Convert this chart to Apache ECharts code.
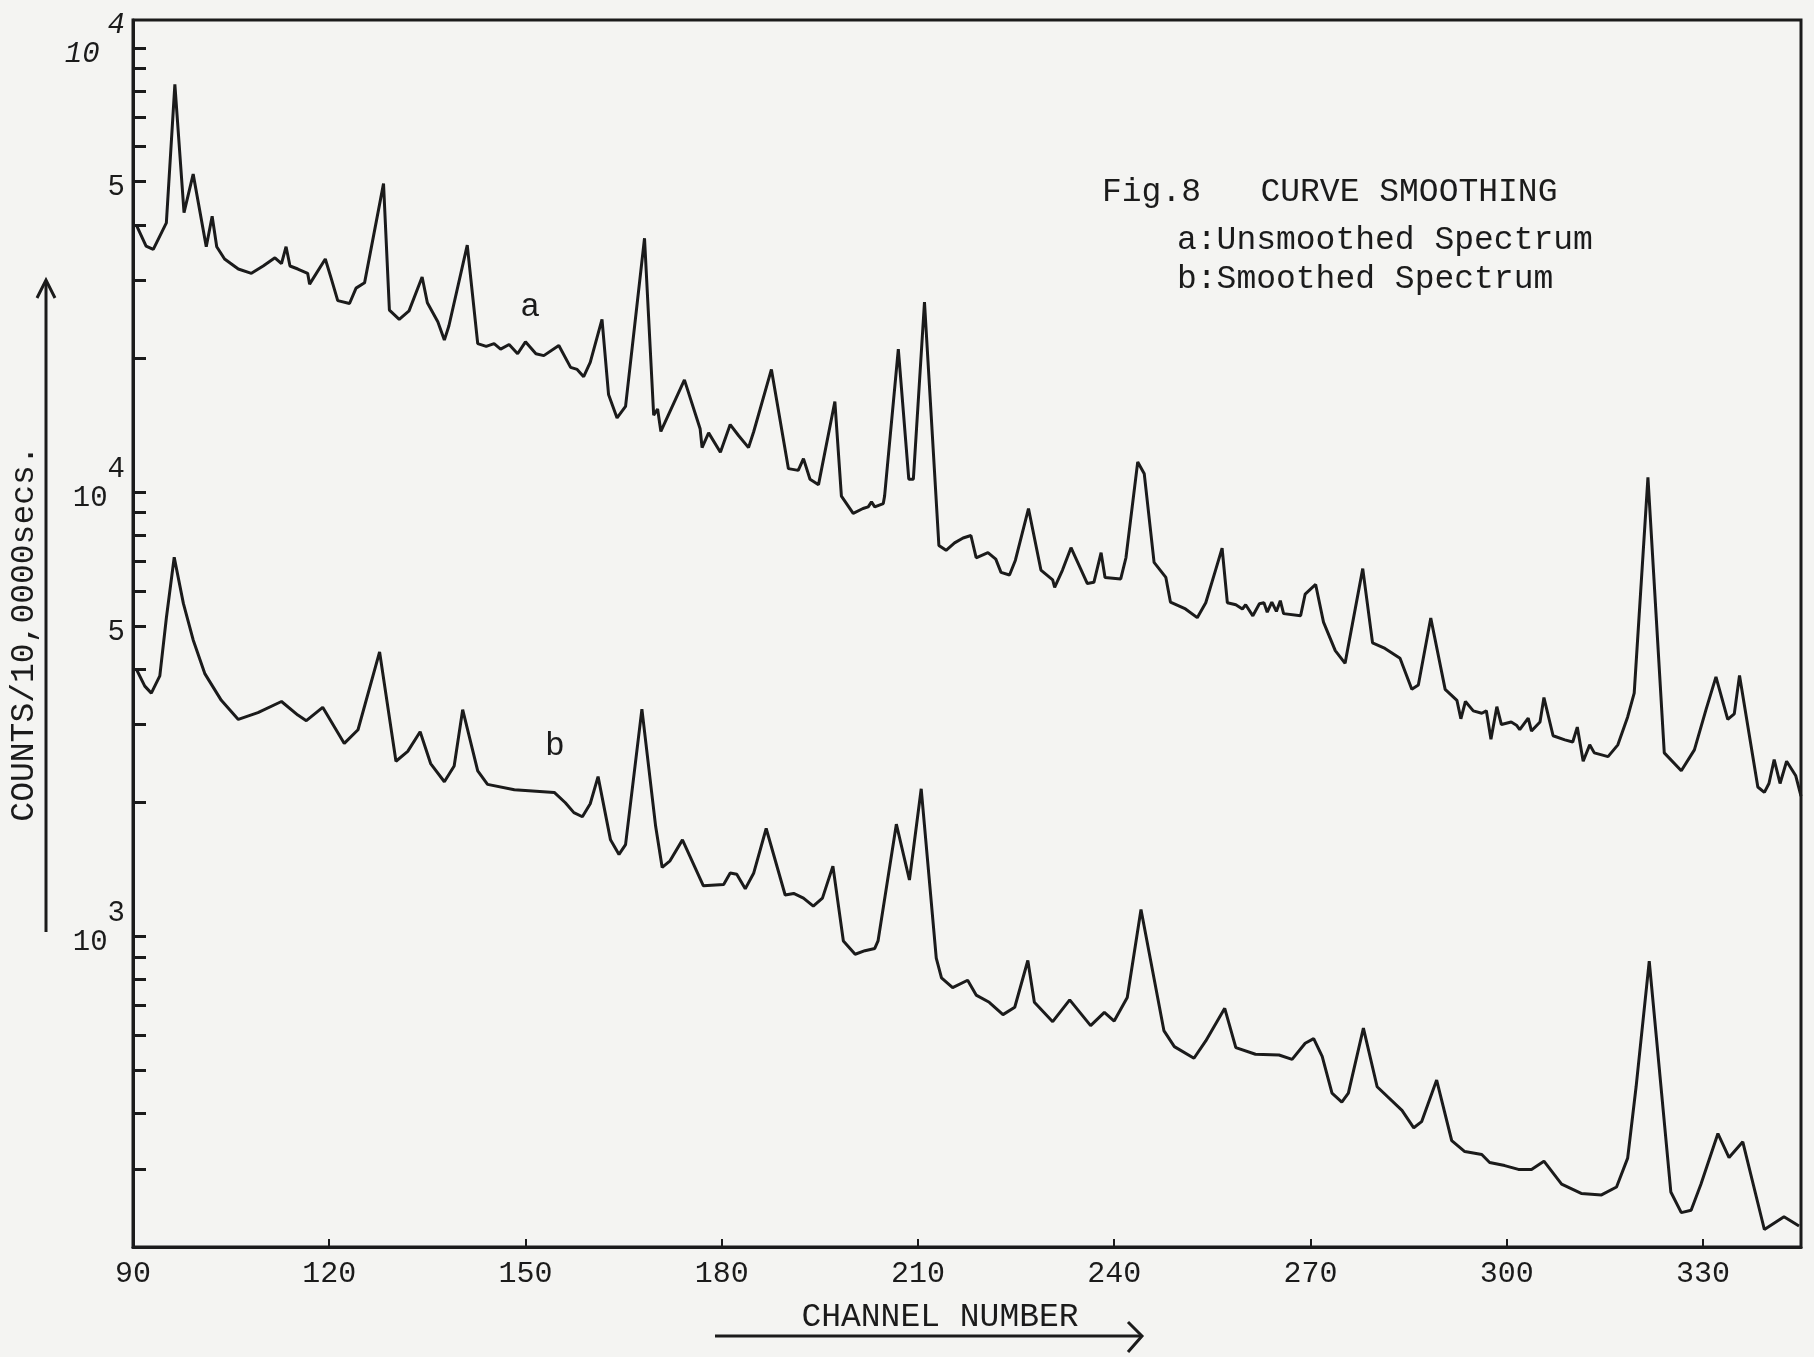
<!DOCTYPE html>
<html>
<head>
<meta charset="utf-8">
<script src="https://cdn.jsdelivr.net/npm/echarts@6/dist/echarts.min.js"></script>
<style>
html, body { margin: 0; padding: 0; background: #f4f4f2; }
#chart { width: 1814px; height: 1357px; }
</style>
</head>
<body>
<div id="chart"></div>
<script>
// channel axis
var channelTicks = [90, 120, 150, 180, 210, 240, 270, 300, 330];
// log count axis: minor ticks and the labelled ones
var countTicks = [200, 300, 400, 500, 600, 700, 800, 900,
    1000, 2000, 3000, 4000, 5000, 6000, 7000, 8000, 9000,
    10000, 20000, 30000, 40000, 50000, 60000, 70000, 80000, 90000, 100000];
var countLabelValues = [1000, 5000, 10000, 50000, 100000];
// top one is written "10^4" on the original sheet, kept as drawn
var countLabelTexts = ['{b|10}{s|3}', '{b|5}', '{b|10}{s|4}', '{b|5}', '{h|10}{hs|4}'];

// a: unsmoothed spectrum  [channel, counts]
var unsmoothed = [
    [90.5, 40000], [92, 35800], [93.1, 35200], [94.4, 38500], [95.1, 40400], [96.4, 82800],
    [97.8, 42600], [99.2, 52000], [101.2, 35700], [102.1, 41800], [102.8, 35700], [104, 33500],
    [106.1, 31800], [108.1, 31100], [109.9, 32300], [111.7, 33700], [112.7, 32700], [113.4, 35700],
    [114, 32300], [115.2, 31800], [116.7, 31100], [117, 29400], [119.4, 33500], [120.3, 30300],
    [121.3, 27000], [123.1, 26600], [124.1, 28800], [125.4, 29600], [128.3, 49500], [129.2, 25700],
    [130.7, 24500], [132.2, 25600], [134.2, 30500], [135, 26700], [136.6, 24200], [137.6, 22000],
    [138.3, 23700], [141.1, 36000], [142.7, 21600], [144, 21300], [145.2, 21600], [146.2, 21000],
    [147.5, 21500], [148.8, 20500], [150, 21800], [151.6, 20500], [152.8, 20300], [155.1, 21400],
    [156.9, 19100], [157.9, 18900], [158.9, 18200], [159.9, 19600], [161.7, 24500], [162.7, 16600],
    [164, 14700], [165.3, 15600], [168.2, 37300], [169.6, 14900], [170.2, 15400], [170.7, 13700],
    [174.3, 17900], [176.7, 13900], [177, 12600], [178, 13600], [179.8, 12300], [181.3, 14200],
    [182.6, 13400], [184.1, 12600], [184.9, 13700], [187.6, 18900], [190.2, 11300], [191.7, 11200],
    [192.5, 11900], [193.5, 10700], [194.8, 10400], [197.3, 16000], [198.3, 9800], [200.1, 8960],
    [201.6, 9190], [202.4, 9270], [202.9, 9510], [203.4, 9270], [204.7, 9430], [204.9, 9800],
    [207, 21000], [208.6, 10700], [209.3, 10700], [211, 26800], [213.2, 7590], [214.3, 7400],
    [215.6, 7690], [216.9, 7890], [218.1, 7990], [218.9, 7120], [220.7, 7310], [221.9, 7070],
    [222.7, 6600], [224, 6510], [224.9, 7030], [226.9, 9190], [228.8, 6680], [230.6, 6350],
    [230.9, 6110], [232.1, 6680], [233.4, 7500], [235.9, 6230], [236.9, 6270], [238, 7310],
    [238.6, 6430], [241, 6380], [241.8, 7120], [243.6, 11700], [244.6, 11000], [246.1, 6950],
    [247.9, 6430], [248.6, 5660], [250.9, 5460], [252.7, 5220], [254, 5640], [255.5, 6680],
    [256.5, 7480], [257.3, 5640], [258.6, 5580], [259.6, 5460], [260.1, 5580], [261.2, 5270],
    [262.2, 5610], [262.9, 5640], [263.4, 5370], [264.1, 5660], [264.8, 5390], [265.4, 5700],
    [265.9, 5330], [268.5, 5270], [269.2, 5900], [270.8, 6200], [272, 5100], [273.8, 4400],
    [275.3, 4120], [278, 6730], [279.5, 4580], [281.4, 4450], [283.7, 4230], [285.5, 3600],
    [286.5, 3680], [288.4, 5210], [290.6, 3600], [292.4, 3400], [293, 3090], [293.7, 3380],
    [294.9, 3220], [296.2, 3180], [296.9, 3220], [297.6, 2780], [298.5, 3290], [299.2, 3000],
    [300.7, 3040], [301.5, 2990], [302, 2920], [303.3, 3100], [303.8, 2900], [305.1, 3040],
    [305.7, 3450], [307.1, 2830], [308.9, 2770], [310.1, 2740], [310.8, 2960], [311.7, 2480],
    [312.7, 2700], [313.4, 2590], [315.5, 2540], [317, 2700], [318.5, 3120], [319.5, 3530],
    [321.6, 10800], [324.1, 2590], [326.7, 2360], [328.7, 2630], [330.5, 3250], [332, 3840],
    [333.8, 3080], [334.8, 3170], [335.6, 3870], [338.4, 2170], [339.4, 2110], [340.1, 2210],
    [340.9, 2500], [341.8, 2210], [342.8, 2480], [344.2, 2300], [345, 2070]
];

// b: smoothed spectrum  [channel, counts]
var smoothed = [
    [90.5, 4000], [91.8, 3660], [92.8, 3530], [94.1, 3860], [95.1, 5210], [96.3, 7140],
    [97.7, 5620], [99.2, 4650], [101, 3900], [103.5, 3400], [106.1, 3080], [109.1, 3190],
    [112.7, 3380], [115.2, 3150], [116.5, 3060], [119, 3280], [122.3, 2720], [124.4, 2920],
    [127.7, 4370], [130.2, 2480], [132, 2610], [133.9, 2890], [135.5, 2450], [137.6, 2230],
    [139.1, 2420], [140.4, 3240], [142.7, 2360], [144.2, 2200], [148.3, 2140], [154.4, 2110],
    [156.1, 2000], [157.4, 1900], [158.7, 1860], [159.9, 1990], [161.1, 2290], [163, 1650],
    [164.3, 1530], [165.3, 1610], [167.8, 3250], [169.9, 1770], [170.9, 1430], [172.1, 1480],
    [174, 1650], [177.2, 1300], [180.3, 1310], [181.3, 1390], [182.3, 1380], [183.6, 1280],
    [184.9, 1390], [186.8, 1750], [189.7, 1240], [191, 1250], [192.5, 1220], [194, 1170],
    [195.4, 1220], [197, 1440], [198.6, 977], [200.4, 912], [201.9, 929], [203.4, 940],
    [203.9, 977], [206.7, 1790], [208.7, 1340], [210.5, 2150], [212.8, 894], [213.6, 807],
    [215.3, 767], [217.6, 797], [218.9, 738], [220.9, 711], [223, 667], [224.8, 693],
    [226.8, 883], [227.8, 711], [230.6, 643], [233.2, 720], [236.4, 630], [238.5, 675],
    [240, 645], [242, 729], [244.1, 1150], [247.6, 614], [249.2, 565], [252.2, 532],
    [254, 582], [256.9, 689], [258.6, 562], [261.6, 543], [265.2, 541], [267.2, 529],
    [269.2, 575], [270.5, 589], [271.8, 537], [273.3, 444], [274.8, 424], [275.8, 444],
    [278.1, 622], [280.2, 459], [284, 406], [285.8, 371], [287, 383], [289.3, 475],
    [291.6, 347], [293.6, 328], [296.2, 323], [297.4, 310], [299.7, 305], [301.8, 299],
    [303.8, 299], [305.7, 312], [308.4, 277], [311.4, 264], [314.5, 262], [316.8, 273],
    [318.5, 317], [319.8, 460], [321.8, 880], [325.1, 266], [326.7, 239], [328.2, 242],
    [329.7, 277], [332.3, 360], [334, 318], [336.1, 345], [339.4, 219], [342.4, 234],
    [344.7, 223]
];

// where the hand-written curve letters sit
var curveTags = [['a', 150.7, 26100], ['b', 154.5, 2680]];

var ink = '#1b1b1b';
var mono = '"Liberation Mono", "DejaVu Sans Mono", monospace';

var chart = echarts.init(document.getElementById('chart'));

function tagPoint(i) {
    return {
        symbol: 'circle',
        symbolSize: 0,
        itemStyle: {color: 'rgba(0,0,0,0)'},
        label: {show: true, position: 'inside', color: ink, fontFamily: mono, fontSize: 33,
            formatter: curveTags[i][0]},
        data: [{coord: [curveTags[i][1], curveTags[i][2]]}]
    };
}

var option = {
    backgroundColor: '#f4f4f2',
    animation: false,
    title: [
        {
            text: 'Fig.8   CURVE SMOOTHING',
            left: 1097, top: 171,
            textStyle: {fontFamily: mono, fontSize: 33, fontWeight: 'normal', color: ink}
        },
        {
            text: 'a:Unsmoothed Spectrum\nb:Smoothed Spectrum',
            left: 1172, top: 216,
            textStyle: {fontFamily: mono, fontSize: 33, fontWeight: 'normal', color: ink, lineHeight: 39}
        }
    ],
    grid: {
        left: 128, right: 13, top: 20, bottom: 110,
        show: true, borderColor: ink, borderWidth: 3
    },
    xAxis: {
        type: 'value',
        min: 90, max: 345, interval: 30,
        name: 'CHANNEL NUMBER',
        nameLocation: 'middle',
        nameGap: 54,
        nameTextStyle: {fontFamily: mono, fontSize: 33, color: ink, padding: [0, 54, 0, 0]},
        axisLine: {lineStyle: {color: ink, width: 3}},
        axisTick: {inside: true, length: 8, lineStyle: {color: ink, width: 2}, customValues: channelTicks},
        axisLabel: {fontFamily: mono, fontSize: 30, color: ink, margin: 12, customValues: channelTicks},
        splitLine: {show: false}
    },
    yAxis: {
        type: 'log',
        logBase: 10,
        min: 200, max: 115600,
        name: 'COUNTS/10,0000secs.',
        nameLocation: 'middle',
        nameRotate: 90,
        nameGap: 92,
        nameTextStyle: {fontFamily: mono, fontSize: 33, color: ink},
        axisLine: {lineStyle: {color: ink, width: 3}},
        axisTick: {inside: true, length: 13, lineStyle: {color: ink, width: 3}, customValues: countTicks},
        axisLabel: {
            margin: 8,
            customValues: countLabelValues,
            formatter: function (v) {
                for (var i = 0; i < countLabelValues.length; i++) {
                    if (Math.abs(countLabelValues[i] - v) < 1e-6 * v) return countLabelTexts[i];
                }
                return '';
            },
            rich: {
                b: {fontFamily: mono, fontSize: 29, color: ink, lineHeight: 30, padding: [29, 0, 17, 0]},
                s: {fontFamily: mono, fontSize: 29, color: ink, lineHeight: 30, padding: [0, 0, 46, 0]},
                h: {fontFamily: mono, fontSize: 29, fontStyle: 'italic', color: ink, lineHeight: 30, padding: [29, 8, 17, 0]},
                hs: {fontFamily: mono, fontSize: 29, fontStyle: 'italic', color: ink, lineHeight: 30, padding: [0, 0, 46, 0]}
            }
        },
        splitLine: {show: false},
        minorTick: {show: false}
    },
    series: [
        {
            name: 'a:Unsmoothed Spectrum',
            type: 'line',
            data: unsmoothed,
            showSymbol: false,
            lineStyle: {color: ink, width: 3},
            markPoint: tagPoint(0)
        },
        {
            name: 'b:Smoothed Spectrum',
            type: 'line',
            data: smoothed,
            showSymbol: false,
            lineStyle: {color: ink, width: 3},
            markPoint: tagPoint(1)
        }
    ],
    // arrows drawn beside the axis names
    graphic: [
        {type: 'line', shape: {x1: 46, y1: 932, x2: 46, y2: 282}, style: {stroke: ink, lineWidth: 3}},
        {type: 'polyline', shape: {points: [[37, 298], [46, 280], [55, 298]]}, style: {stroke: ink, lineWidth: 3, fill: null}},
        {type: 'line', shape: {x1: 715, y1: 1336, x2: 1141, y2: 1336}, style: {stroke: ink, lineWidth: 3}},
        {type: 'polyline', shape: {points: [[1128, 1322], [1142, 1336], [1128, 1352]]}, style: {stroke: ink, lineWidth: 3, fill: null}}
    ]
};

chart.setOption(option);
</script>
</body>
</html>
